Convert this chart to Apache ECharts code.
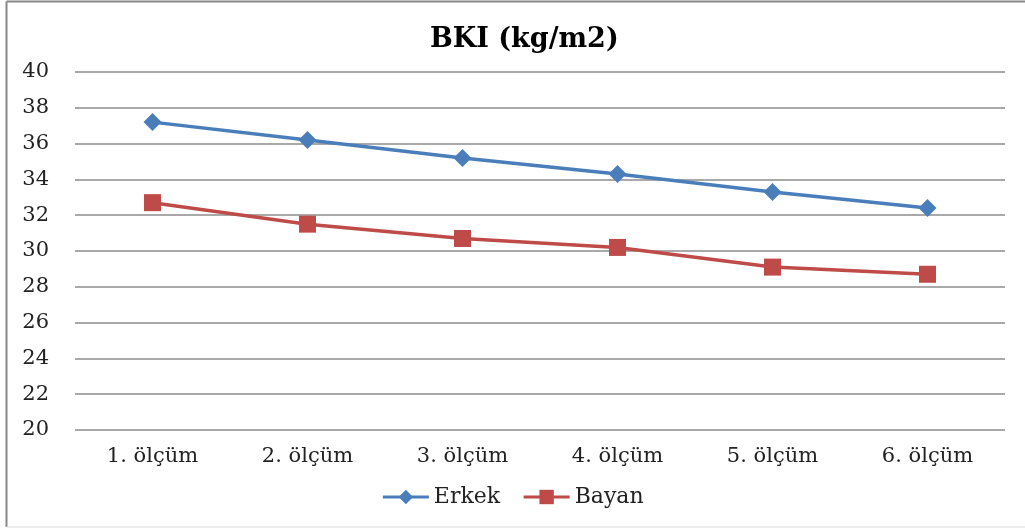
<!DOCTYPE html>
<html><head><meta charset="utf-8">
<script src="https://cdn.jsdelivr.net/npm/echarts@6/dist/echarts.min.js"></script>
<style>html,body{margin:0;padding:0;background:#fff}#c{width:1025px;height:529px}</style>
</head><body><div id="c"></div>
<script>
const categories = ['1. ölçüm','2. ölçüm','3. ölçüm','4. ölçüm','5. ölçüm','6. ölçüm'];
const erkek = [37.2, 36.2, 35.2, 34.3, 33.3, 32.4];
const bayan = [32.7, 31.5, 30.7, 30.2, 29.1, 28.7];
const yTicks = {min: 20, max: 40, interval: 2};
const font = 'DejaVu Serif';
const chart = echarts.init(document.getElementById('c'));
chart.setOption({
  backgroundColor: '#fff',
  animation: false,
  title: {text: 'BKI (kg/m2)', left: 425, top: 21,
    textStyle: {fontFamily: font, fontSize: 27, fontWeight: 'bold', color: '#000'}},
  graphic: [
    {type: 'line', shape: {x1: 6.5, y1: 1.5, x2: 1025, y2: 1.5}, style: {stroke: '#888', lineWidth: 2}},
    {type: 'line', shape: {x1: 6.5, y1: 1.5, x2: 6.5, y2: 527}, style: {stroke: '#888', lineWidth: 2}},
    {type: 'line', shape: {x1: 6.5, y1: 527, x2: 1025, y2: 527}, style: {stroke: '#ddd', lineWidth: 1}}
  ],
  legend: {bottom: 16, left: 'center', itemWidth: 46, itemHeight: 18, itemGap: 22,
    textStyle: {fontFamily: font, fontSize: 22, color: '#222'},
    lineStyle: {width: 3},
    data: ['Erkek', 'Bayan']},
  grid: {left: 75, right: 20, top: 72, bottom: 99, containLabel: false},
  xAxis: {type: 'category', data: categories, boundaryGap: true,
    axisLine: {show: false}, axisTick: {show: false},
    axisLabel: {fontFamily: font, fontSize: 21, color: '#222', margin: 16}},
  yAxis: {type: 'value', min: yTicks.min, max: yTicks.max, interval: yTicks.interval,
    axisLine: {show: false}, axisTick: {show: false},
    axisLabel: {fontFamily: font, fontSize: 21, color: '#222', margin: 26},
    splitLine: {lineStyle: {color: '#8c8c8c', width: 1.5}}},
  series: [
    {name: 'Erkek', type: 'line', data: erkek, symbol: 'diamond', symbolSize: 18,
      lineStyle: {color: '#4a7ebb', width: 3.5}, itemStyle: {color: '#4a7ebb'}},
    {name: 'Bayan', type: 'line', data: bayan, symbol: 'rect', symbolSize: 17,
      lineStyle: {color: '#be4b48', width: 3.5}, itemStyle: {color: '#be4b48'}}
  ]
});
</script></body></html>
